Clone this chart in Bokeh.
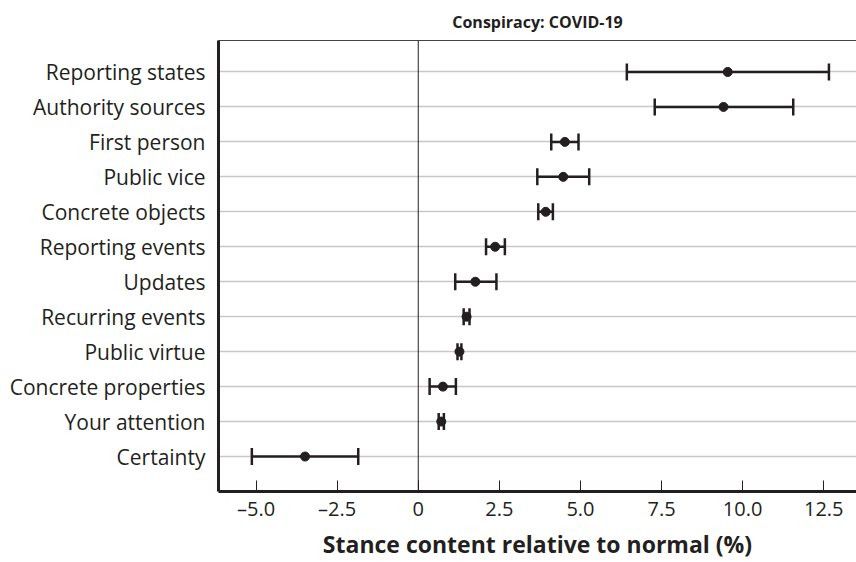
from bokeh.plotting import figure
from bokeh.models import ColumnDataSource, Whisker, TeeHead, Span, FixedTicker, LinearAxis, Range1d
from bokeh.embed import file_html
from bokeh.resources import INLINE

categories = ["Reporting states", "Authority sources", "First person", "Public vice",
              "Concrete objects", "Reporting events", "Updates", "Recurring events",
              "Public virtue", "Concrete properties", "Your attention", "Certainty"]
means = [9.54, 9.41, 4.52, 4.47, 3.93, 2.37, 1.76, 1.49, 1.27, 0.76, 0.71, -3.49]
lower = [6.43, 7.29, 4.10, 3.67, 3.70, 2.09, 1.14, 1.40, 1.21, 0.35, 0.63, -5.13]
upper = [12.66, 11.56, 4.94, 5.27, 4.15, 2.67, 2.41, 1.58, 1.33, 1.16, 0.79, -1.85]
x_ticks = [-5.0, -2.5, 0.0, 2.5, 5.0, 7.5, 10.0, 12.5]
x_tick_labels = ["\u20135.0", "\u20132.5", "0", "2.5", "5.0", "7.5", "10.0", "12.5"]

n = len(categories)
ypos = [n - i for i in range(n)]

src = ColumnDataSource(dict(cat=categories, y=ypos, m=means, lo=lower, hi=upper))

FONT = "Open Sans"
INK = "#231f20"

p = figure(width=856, height=562, output_backend="svg", toolbar_location=None,
           x_range=Range1d(-6.158, 13.51), y_range=Range1d(0.0, n + 0.9),
           min_border_left=218, min_border_right=0, min_border_bottom=70, min_border_top=40)

p.title.text = "Conspiracy: COVID-19"
p.title.align = "center"
p.title.text_font = FONT
p.title.text_font_size = "16px"
p.title.text_font_style = "bold"
p.title.text_color = INK
p.title.standoff = 16

p.outline_line_color = None
p.background_fill_color = "white"
p.border_fill_color = "white"

# grid
p.xgrid.grid_line_color = None
p.ygrid.ticker = FixedTicker(ticks=ypos)
p.ygrid.grid_line_color = "#c8c8c8"
p.ygrid.grid_line_width = 1.5

# x axis
p.xaxis.ticker = FixedTicker(ticks=x_ticks)
p.xaxis.major_label_overrides = {t: l for t, l in zip(x_ticks, x_tick_labels)}
p.xaxis.major_tick_in = 11
p.xaxis.major_tick_out = 0
p.xaxis.major_tick_line_color = INK
p.xaxis.major_tick_line_width = 1
p.xaxis.minor_tick_line_color = None
p.xaxis.axis_line_width = 3
p.xaxis.axis_line_color = INK
p.xaxis.major_label_text_font = FONT
p.xaxis.major_label_text_font_size = "20px"
p.xaxis.major_label_text_color = INK
p.xaxis.major_label_standoff = 3
p.xaxis.axis_label = "Stance content relative to normal (%)"
p.xaxis.axis_label_text_font = FONT
p.xaxis.axis_label_text_font_size = "23px"
p.xaxis.axis_label_text_font_style = "bold"
p.xaxis.axis_label_text_color = INK
p.xaxis.axis_label_standoff = 3

# y axis
p.yaxis.ticker = FixedTicker(ticks=ypos)
p.yaxis.major_label_overrides = {y: c for y, c in zip(ypos, categories)}
p.yaxis.major_tick_in = 0
p.yaxis.major_tick_out = 0
p.yaxis.minor_tick_line_color = None
p.yaxis.axis_line_width = 3
p.yaxis.axis_line_color = INK
p.yaxis.major_label_text_font = FONT
p.yaxis.major_label_text_font_size = "21px"
p.yaxis.major_label_text_color = INK
p.yaxis.major_label_standoff = 13

# top border
top = LinearAxis(ticker=FixedTicker(ticks=[]), axis_line_color="#444444", axis_line_width=1,
                 major_tick_line_color=None, minor_tick_line_color=None,
                 major_label_text_font_size="0px")
p.add_layout(top, "above")

# zero line
p.add_layout(Span(location=0, dimension="height", line_color=INK, line_width=1))

w = Whisker(source=src, base="y", lower="lo", upper="hi", dimension="width",
            line_color=INK, line_width=2.5,
            lower_head=TeeHead(size=17, line_color=INK, line_width=2.5),
            upper_head=TeeHead(size=17, line_color=INK, line_width=2.5))
p.add_layout(w)

p.scatter(x="m", y="y", source=src, size=9, color=INK)

open("out.html", "w").write(file_html(p, INLINE))
